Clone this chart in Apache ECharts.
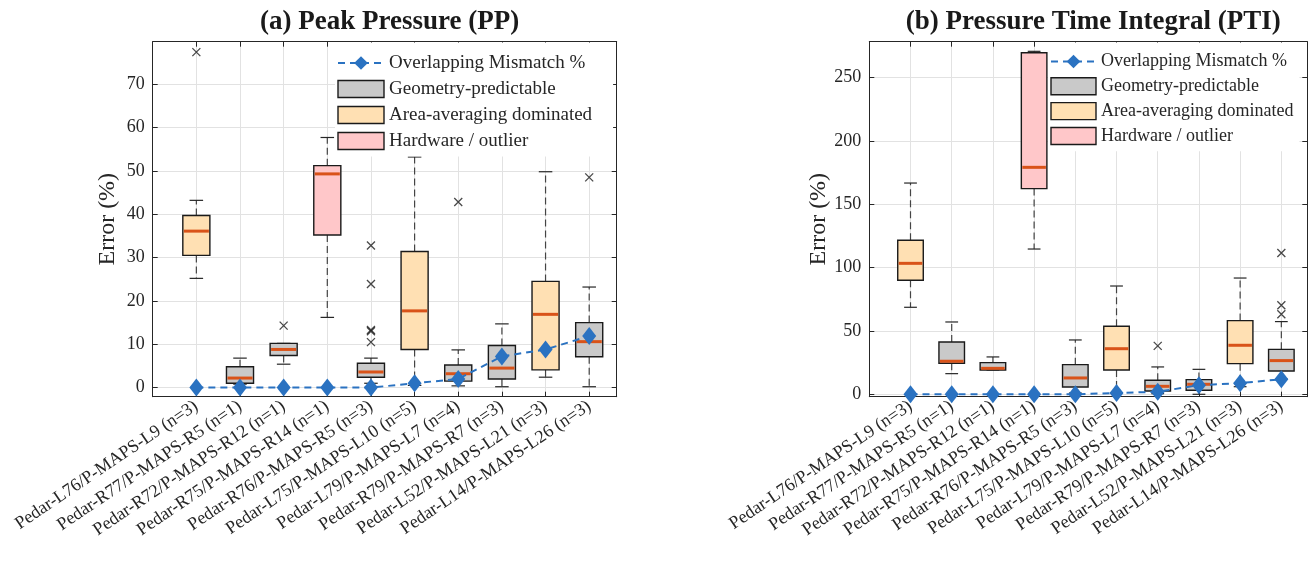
<!DOCTYPE html>
<html>
<head>
<meta charset="utf-8">
<script src="https://cdn.jsdelivr.net/npm/echarts@6/dist/echarts.min.js"></script>
<style>
  html, body { margin: 0; padding: 0; background: #fff; }
  #chart { width: 1312px; height: 561px; }
</style>
</head>
<body>
<div id="chart"></div>
<script>
const categories = [
  "Pedar-L76/P-MAPS-L9 (n=3)",
  "Pedar-R77/P-MAPS-R5 (n=1)",
  "Pedar-R72/P-MAPS-R12 (n=1)",
  "Pedar-R75/P-MAPS-R14 (n=1)",
  "Pedar-R76/P-MAPS-R5 (n=3)",
  "Pedar-L75/P-MAPS-L10 (n=5)",
  "Pedar-L79/P-MAPS-L7 (n=4)",
  "Pedar-R79/P-MAPS-R7 (n=3)",
  "Pedar-L52/P-MAPS-L21 (n=3)",
  "Pedar-L14/P-MAPS-L26 (n=3)",
]
const categoryTicks = [1, 2, 3, 4, 5, 6, 7, 8, 9, 10]
const ppTicks = [0, 10, 20, 30, 40, 50, 60, 70]
const ptiTicks = [0, 50, 100, 150, 200, 250]

// rows: [position, lower whisker, Q1, median, Q3, upper whisker]
const ppGeometry = [
  [2, 0.8, 1.0, 2.2, 4.8, 6.8],
  [3, 5.4, 7.4, 8.8, 10.2, 10.2],
  [5, 1.0, 2.4, 3.6, 5.6, 6.8],
  [7, 0.4, 1.5, 3.2, 5.2, 8.7],
  [8, 0.2, 2.0, 4.5, 9.7, 14.7],
  [10, 0.2, 7.1, 10.6, 15.0, 23.2],
]
const ppArea = [
  [1, 25.2, 30.5, 36.1, 39.7, 43.2],
  [6, 0.5, 8.8, 17.7, 31.4, 53.2],
  [9, 2.4, 4.1, 16.9, 24.5, 49.8],
]
const ppHardware = [[4, 16.2, 35.2, 49.3, 51.2, 57.7]]
const ppOutliers = [
  [1, 77.4], [3, 14.3], [5, 32.8], [5, 23.9], [5, 13.3], [5, 13.0],
  [5, 10.5], [7, 42.8], [10, 48.5],
]

const ptiGeometry = [
  [2, 16.3, 24.5, 26.1, 41.3, 57.1],
  [3, 19.2, 19.2, 20.5, 25.0, 29.5],
  [5, 1.0, 5.8, 12.9, 23.4, 42.9],
  [7, 0.5, 2.6, 6.3, 11.1, 21.6],
  [8, 0, 3.2, 7.9, 11.6, 19.7],
  [10, 12, 18.4, 26.6, 35.5, 57.4],
]
const ptiArea = [
  [1, 68.7, 90, 103.4, 121.6, 166.8],
  [6, 1, 19.2, 36, 53.7, 85.5],
  [9, 6, 24.2, 38.7, 58.2, 91.8],
]
const ptiHardware = [[4, 114.7, 162.4, 179.2, 269.7, 270.8]]
const ptiOutliers = [[7, 38.2], [10, 111.6], [10, 70.3], [10, 63.2]]

const mismatch = [0, 0, 0, 0, 0, 1.0, 2.0, 7.2, 8.8, 11.9]

const FONT = "Liberation Serif"
const INK = "#262626"
const BLUE = "#2a72c1"
const colors = {
  geometry: "#c9c9c9",
  area: "#ffe0b3",
  hardware: "#ffc7c9",
}
const names = {
  line: "Overlapping Mismatch %",
  geometry: "Geometry-predictable",
  area: "Area-averaging dominated",
  hardware: "Hardware / outlier",
}

const chart = echarts.init(document.getElementById("chart"))

function boxRenderer(fill) {
  return function (params, api) {
    const x = api.value(0)
    const w = api.size([1, 0])[0] * 0.62
    const cap = w * 0.5
    const lo = api.coord([x, api.value(1)])
    const q1 = api.coord([x, api.value(2)])
    const med = api.coord([x, api.value(3)])
    const q3 = api.coord([x, api.value(4)])
    const hi = api.coord([x, api.value(5)])
    const cx = lo[0]
    const dash = { stroke: "#444", lineWidth: 1.2, lineDash: [7, 4] }
    const solid = { stroke: INK, lineWidth: 1.2 }
    return {
      type: "group",
      children: [
        { type: "line", shape: { x1: cx, y1: q3[1], x2: cx, y2: hi[1] }, style: dash },
        { type: "line", shape: { x1: cx, y1: q1[1], x2: cx, y2: lo[1] }, style: dash },
        { type: "line", shape: { x1: cx - cap / 2, y1: hi[1], x2: cx + cap / 2, y2: hi[1] }, style: solid },
        { type: "line", shape: { x1: cx - cap / 2, y1: lo[1], x2: cx + cap / 2, y2: lo[1] }, style: solid },
        {
          type: "rect",
          shape: { x: cx - w / 2, y: q3[1], width: w, height: q1[1] - q3[1] },
          style: { fill: fill, stroke: "#1a1a1a", lineWidth: 1.4 },
        },
        {
          type: "line",
          shape: { x1: cx - w / 2 + 1, y1: med[1], x2: cx + w / 2 - 1, y2: med[1] },
          style: { stroke: "#d95319", lineWidth: 3 },
        },
      ],
    }
  }
}

const axisLine = { show: true, onZero: false, lineStyle: { color: INK, width: 1 } }
const gridLine = { show: true, lineStyle: { color: "#e2e2e2", width: 1 } }

function ticks(values) {
  return { show: true, inside: true, length: 5, customValues: values, lineStyle: { color: INK } }
}

function xAxes(gridIndex) {
  return [
    {
      type: "value",
      gridIndex: gridIndex,
      min: 0,
      max: 10.63,
      interval: 1,
      axisLine: axisLine,
      axisTick: ticks(categoryTicks),
      splitLine: gridLine,
      axisLabel: {
        rotate: 34,
        margin: 8,
        fontFamily: FONT,
        fontSize: 18,
        color: INK,
        customValues: categoryTicks,
        formatter: function (v) {
          return categories[v - 1] || ""
        },
      },
    },
    {
      type: "value",
      gridIndex: gridIndex,
      position: "top",
      min: 0,
      max: 10.63,
      interval: 1,
      axisLine: axisLine,
      axisTick: ticks(categoryTicks),
      splitLine: { show: false },
      axisLabel: { show: false },
    },
  ]
}

function yAxes(gridIndex, min, max, splitNumber, tickValues, nameGap) {
  return [
    {
      type: "value",
      gridIndex: gridIndex,
      min: min,
      max: max,
      splitNumber: splitNumber,
      name: "Error (%)",
      nameLocation: "middle",
      nameGap: nameGap,
      nameTextStyle: { fontFamily: FONT, fontSize: 24, color: INK },
      axisLine: axisLine,
      axisTick: ticks(tickValues),
      splitLine: gridLine,
      axisLabel: {
        margin: 8,
        fontFamily: FONT,
        fontSize: 18,
        color: INK,
        customValues: tickValues,
      },
    },
    {
      type: "value",
      gridIndex: gridIndex,
      position: "right",
      min: min,
      max: max,
      splitNumber: splitNumber,
      axisLine: axisLine,
      axisTick: ticks(tickValues),
      splitLine: { show: false },
      axisLabel: { show: false },
    },
  ]
}

function panelSeries(axisIndex, geometry, area, hardware, outliers) {
  const boxes = [
    ["geometry", geometry],
    ["area", area],
    ["hardware", hardware],
  ].map(([key, rows]) => ({
    name: names[key],
    type: "custom",
    xAxisIndex: axisIndex,
    yAxisIndex: axisIndex,
    itemStyle: { color: colors[key], borderColor: "#1a1a1a" },
    renderItem: boxRenderer(colors[key]),
    encode: { x: 0, y: [1, 2, 3, 4, 5] },
    data: rows,
    z: 2,
  }))
  return boxes.concat([
    {
      name: "outliers",
      type: "scatter",
      xAxisIndex: axisIndex,
      yAxisIndex: axisIndex,
      symbol: "path://M0 0L10 10M10 0L0 10",
      symbolSize: 8,
      itemStyle: { color: "none", borderColor: "#1a1a1a", borderWidth: 1.3 },
      data: outliers,
      z: 3,
    },
    {
      name: names.line,
      type: "line",
      xAxisIndex: axisIndex,
      yAxisIndex: axisIndex,
      data: mismatch.map((v, i) => [i + 1, v]),
      symbol: "diamond",
      symbolSize: [14, 18],
      itemStyle: { color: BLUE },
      lineStyle: { color: BLUE, width: 2, type: [7, 5] },
      z: 4,
    },
  ])
}

function legend(left, padTop, padRight, fontSize, itemWidth, itemGap) {
  return {
    orient: "vertical",
    left: left,
    top: 42.5,
    padding: [padTop, padRight, 6, 2],
    backgroundColor: "#fff",
    itemWidth: itemWidth,
    itemHeight: 17,
    itemGap: itemGap,
    textStyle: { fontFamily: FONT, fontSize: fontSize, color: INK },
    data: [
      { name: names.line },
      { name: names.geometry, icon: "rect", itemStyle: { color: colors.geometry, borderColor: "#1a1a1a", borderWidth: 1.4 } },
      { name: names.area, icon: "rect", itemStyle: { color: colors.area, borderColor: "#1a1a1a", borderWidth: 1.4 } },
      { name: names.hardware, icon: "rect", itemStyle: { color: colors.hardware, borderColor: "#1a1a1a", borderWidth: 1.4 } },
    ],
  }
}

const titleStyle = { fontFamily: FONT, fontSize: 27, fontWeight: "bold", color: "#1a1a1a" }

const option = {
  animation: false,
  title: [
    { text: "(a) Peak Pressure (PP)", left: 384.7, top: 4, textAlign: "center", textStyle: titleStyle },
    { text: "(b) Pressure Time Integral (PTI)", left: 1088.3, top: 4, textAlign: "center", textStyle: titleStyle },
  ],
  legend: [legend(335, 11, 21, 19, 46, 7), legend(1048, 10, 6, 18, 45, 6.5)],
  grid: [
    { left: 152.7, top: 41.7, width: 464, height: 355 },
    { left: 869.3, top: 41.7, width: 438, height: 355 },
  ],
  xAxis: xAxes(0).concat(xAxes(1)),
  yAxis: yAxes(0, -2.1, 79.8, 8, ppTicks, 33).concat(yAxes(1, -1.9, 278.4, 6, ptiTicks, 39)),
  series: panelSeries(0, ppGeometry, ppArea, ppHardware, ppOutliers).concat(
    panelSeries(2, ptiGeometry, ptiArea, ptiHardware, ptiOutliers)
  ),
}

chart.setOption(option)
</script>
</body>
</html>
